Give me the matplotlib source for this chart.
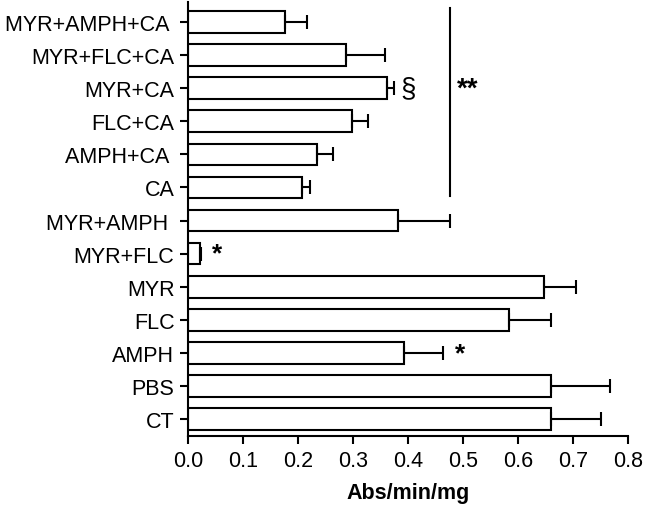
import numpy as np
from matplotlib import pyplot as plt

plt.rcParams['font.family'] = ['Liberation Sans', 'DejaVu Sans']

# bottom to top
groups = ['CT', 'PBS', 'AMPH', 'FLC', 'MYR', 'MYR+FLC', 'MYR+AMPH ', 'CA',
          'AMPH+CA ', 'FLC+CA', 'MYR+CA', 'MYR+FLC+CA', 'MYR+AMPH+CA ']
means = [0.659, 0.659, 0.393, 0.584, 0.647, 0.021, 0.381, 0.207,
         0.234, 0.297, 0.361, 0.287, 0.175]
errs = [0.091, 0.108, 0.071, 0.076, 0.058, 0.003, 0.095, 0.014,
        0.029, 0.030, 0.013, 0.070, 0.041]
x_ticks = [0.0, 0.1, 0.2, 0.3, 0.4, 0.5, 0.6, 0.7, 0.8]

fig = plt.figure(figsize=(6.47, 5.1), dpi=100)
ax = fig.add_axes([0.291, 0.143, 0.68, 0.851])

y = np.arange(len(groups))
ax.barh(y, means, height=0.65, color='white', edgecolor='black', linewidth=1.5)
ax.errorbar(means, y, xerr=[np.zeros(len(errs)), errs], fmt='none',
            ecolor='black', elinewidth=1.5, capsize=4.7, capthick=1.5)

ax.set_xlim(0, 0.8)
ax.set_ylim(-0.51, 12.6)
ax.set_xticks(x_ticks)
ax.set_xticklabels([f'{v:.1f}' for v in x_ticks])
ax.set_yticks(y)
ax.set_yticklabels(groups)
ax.tick_params(axis='both', labelsize=15.5, width=1.5, length=6, pad=4)
for s in ['top', 'right']:
    ax.spines[s].set_visible(False)
for s in ['left', 'bottom']:
    ax.spines[s].set_linewidth(1.5)
ax.set_xlabel('Abs/min/mg', fontsize=15.5, fontweight='bold', labelpad=8)

# significance marks
ax.plot([0.476, 0.476], [6.73, 12.41], color='black', lw=1.5)
ax.text(0.508, 10, '**', fontsize=20, fontweight='bold', ha='center', va='center')
ax.text(0.399, 10, '§', fontsize=20, ha='center', va='center')
ax.text(0.052, 5, '*', fontsize=19, fontweight='bold', ha='center', va='center')
ax.text(0.494, 2, '*', fontsize=19, fontweight='bold', ha='center', va='center')

plt.savefig('out.png')
